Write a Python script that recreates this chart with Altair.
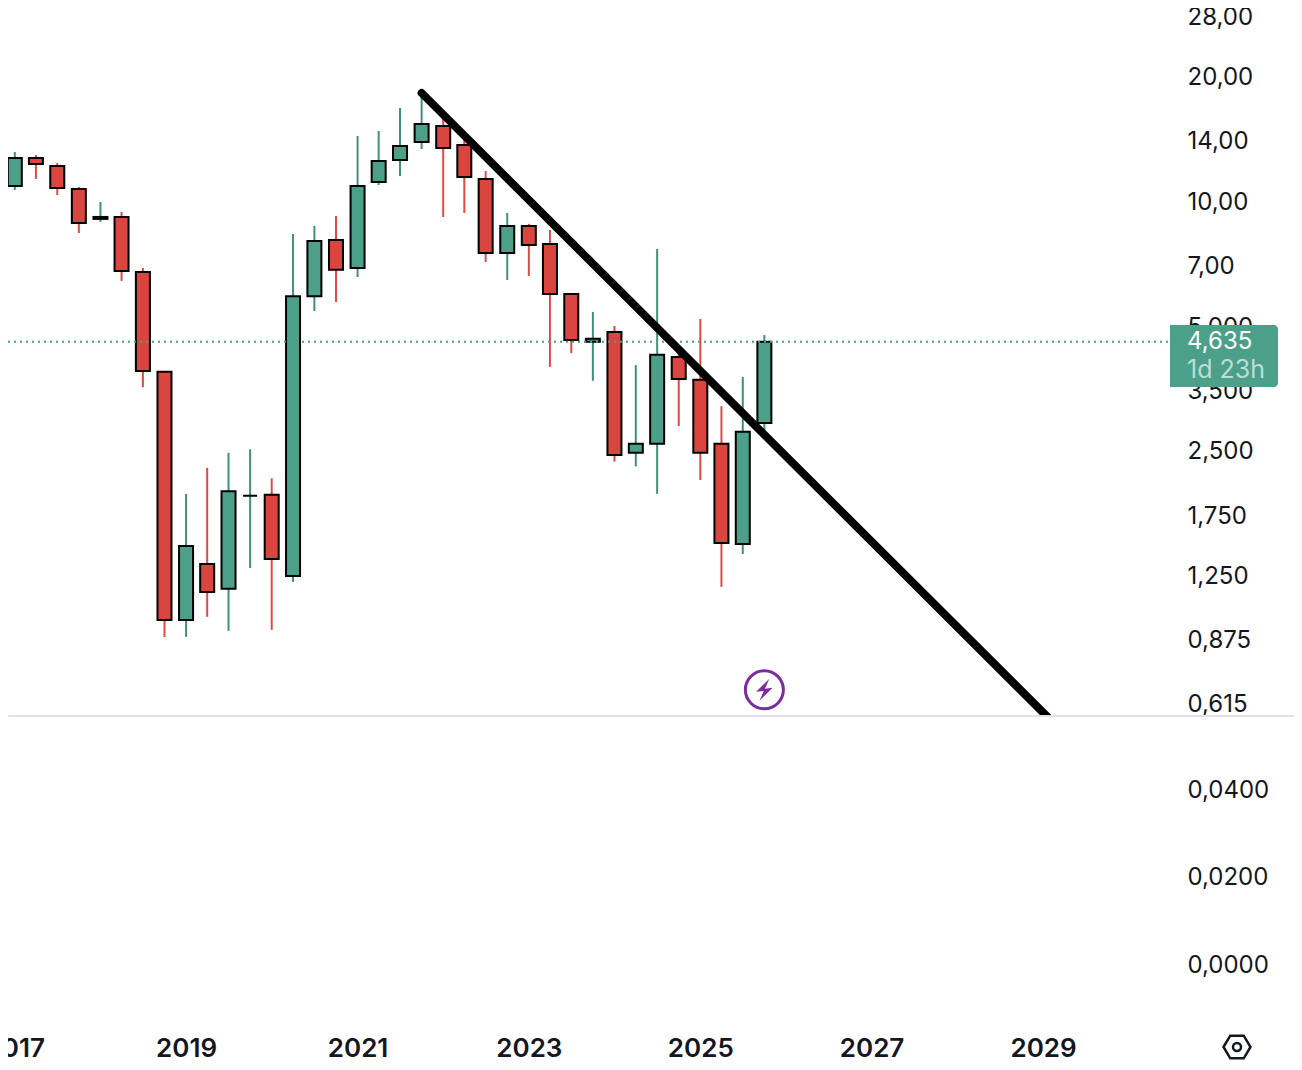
import altair as alt
import pandas as pd

dates = [d.strftime("%Y-%m-%d") for d in pd.date_range("2017-01-01", periods=36, freq="QS")]
opens = [11.01, 12.86, 12.31, 10.83, 9.17, 9.27, 6.83, 3.92, 0.988, 1.348, 1.174, 1.97,
         1.98, 1.261, 5.97, 8.16, 6.98, 11.26, 12.72, 14.06, 15.37, 13.83, 11.45, 7.59,
         8.82, 7.98, 6.04, 4.635, 4.89, 2.50, 2.63, 4.26, 3.75, 2.63, 1.507, 2.95]
closes = [12.86, 12.44, 10.89, 8.97, 9.27, 6.87, 3.94, 0.988, 1.49, 1.154, 2.02, 1.97,
          1.386, 5.97, 8.11, 6.91, 11.01, 12.65, 13.75, 15.54, 13.60, 11.58, 7.59, 8.82,
          7.93, 6.04, 4.68, 4.71, 2.47, 2.63, 4.31, 3.77, 2.50, 1.515, 2.81, 4.635]
highs = [13.30, 13.08, 12.51, 10.95, 10.07, 9.53, 6.98, 3.94, 1.99, 2.30, 2.50, 2.55,
         2.17, 8.43, 8.82, 9.32, 14.54, 14.95, 16.98, 18.25, 16.42, 14.22, 11.97, 9.48,
         8.92, 8.62, 6.08, 5.47, 5.06, 4.07, 7.76, 4.43, 5.26, 3.24, 3.81, 4.81]
lows = [10.77, 11.45, 10.47, 8.48, 9.02, 6.50, 3.60, 0.899, 0.899, 1.005, 0.930, 1.318,
        0.935, 1.220, 5.50, 5.78, 6.64, 11.07, 11.64, 13.52, 9.27, 9.48, 7.22, 6.53,
        6.68, 4.03, 4.35, 3.73, 2.38, 2.32, 1.99, 2.90, 2.15, 1.187, 1.425, 2.72]
trend_dates = ["2021-10-01", "2029-04-12"]
trend_prices = [18.46, 0.518]
last_price = 4.635
price_ticks = [28, 20, 14, 10, 7, 5, 3.5, 2.5, 1.75, 1.25, 0.875, 0.615]
lower_ticks = [0.04, 0.02, 0.0]
year_ticks = [2017, 2019, 2021, 2023, 2025, 2027, 2029]

GREEN, GREEN_W = "#4CA08A", "#3F917B"
RED, RED_W = "#DB4540", "#E04A45"
INK = "#131722"
FONT = "Inter"

df = pd.DataFrame({"date": dates, "open": opens, "close": closes, "high": highs, "low": lows})
df["dir"] = ["up" if c >= o else "down" for o, c in zip(opens, closes)]
df["dirw"] = df["dir"]
trend = pd.DataFrame({"date": trend_dates, "price": trend_prices})
one = pd.DataFrame({"date": [dates[-1]], "price": [0.670], "last": [last_price], "floor": [0.579], "bottom": [0.107]})

x_scale = alt.Scale(type="utc", padding=0,
                    domain=[alt.DateTime(year=2016, month=12, date=3, utc=True),
                            alt.DateTime(year=2030, month=6, date=26, utc=True)])
y_scale = alt.Scale(type="log", domain=[0.107, 29.6], nice=False)
X = alt.X("date:T", scale=x_scale, title=None,
          axis=alt.Axis(values=[alt.DateTime(year=y, month=1, date=1, utc=True) for y in year_ticks],
                        labelExpr="utcyear(datum.value)", domain=False, ticks=False, grid=False,
                        labelFont=FONT, labelFontSize=26, labelFontWeight=600, labelColor=INK,
                        labelPadding=15, labelOverlap=False, labelFlush=False, labelBound=False))

price_axis = alt.Axis(orient="right", values=price_ticks, domain=False, ticks=False, grid=False,
                      labelExpr="replace(format(datum.value, datum.value >= 7 ? '.2f' : '.3f'), '.', ',')",
                      labelFont=FONT, labelFontSize=24, labelColor=INK, labelPadding=17, labelAlign="left",
                      labelOverlap=False, labelFlush=False, labelBound=False, labelOffset=-1)


def Y(field):
    return alt.Y(field, type="quantitative", scale=y_scale, title=None, axis=price_axis)


color = alt.Color("dir:N", legend=None, scale=alt.Scale(domain=["up", "down"], range=[GREEN, RED]))
color_w = alt.Color("dirw:N", legend=None, scale=alt.Scale(domain=["up", "down"], range=[GREEN_W, RED_W]))

wicks = alt.Chart(df).mark_rule(strokeWidth=2).encode(x=X, y=Y("low"), y2="high:Q", color=color_w)
bodies = alt.Chart(df).mark_bar(size=14, stroke="black", strokeWidth=2).encode(x=X, y=Y("open"), y2="close:Q", color=color)
dots = alt.Chart(one).mark_rule(strokeWidth=2, strokeDash=[2, 4], color=GREEN).encode(
    x=alt.value(0), x2=alt.value(1162), y=Y("last"))
line = alt.Chart(trend).mark_line(color="black", strokeWidth=8, strokeCap="round", clip=True).encode(x=X, y=Y("price"))
mask = alt.Chart(one).mark_rect(color="white").encode(x=alt.value(0), x2=alt.value(1162), y=Y("floor"), y2="bottom:Q")
sep = alt.Chart(one).mark_rule(color="#E0E3EB", strokeWidth=2).encode(x=alt.value(-8), x2=alt.value(1286), y=Y("floor"))
ring = alt.Chart(one).mark_point(shape="circle", size=1444, filled=False, color="#7B2D9F", strokeWidth=3, opacity=1).encode(x=X, y=Y("price"))
bolt = alt.Chart(one).mark_point(shape="M0.45,-1L-0.75,0.18L-0.05,0.1L-0.45,1L0.75,-0.18L0.05,-0.1Z", size=484,
                                 filled=True, color="#7B2D9F", opacity=1).encode(x=X, y=Y("price"))
badge = alt.Chart(one).mark_rect(color=GREEN, cornerRadiusTopRight=4, cornerRadiusBottomRight=4).encode(
    x=alt.value(1162), x2=alt.value(1270), y=alt.value(317), y2=alt.value(379))
badge_price = alt.Chart(pd.DataFrame({"t": ["4,635"]})).mark_text(align="left", baseline="middle", font=FONT, fontSize=24, color="white").encode(
    x=alt.value(1179), y=alt.value(334), text="t:N")
badge_time = alt.Chart(pd.DataFrame({"t": ["1d 23h"]})).mark_text(align="left", baseline="middle", font=FONT, fontSize=25, color="#BBDED4").encode(
    x=alt.value(1179), y=alt.value(362), text="t:N")
hexagon = alt.Chart(one).mark_point(shape="M-1,0L-0.5,-0.84L0.5,-0.84L1,0L0.5,0.84L-0.5,0.84Z", size=729, filled=False,
                                    color=INK, strokeWidth=2.5, opacity=1).encode(x=alt.value(1229), y=alt.value(1039))
hole = alt.Chart(one).mark_point(shape="circle", size=64, filled=False, color=INK, strokeWidth=2.5, opacity=1).encode(
    x=alt.value(1229), y=alt.value(1039))

top = alt.layer(wicks, bodies, dots, line, mask, sep, ring, bolt, badge, badge_price, badge_time, hexagon, hole).resolve_scale(color="independent")

lower_axis = alt.Axis(orient="right", values=lower_ticks, domain=False, ticks=False, grid=False,
                      labelExpr="replace(format(datum.value, '.4f'), '.', ',')",
                      labelFont=FONT, labelFontSize=24, labelColor=INK, labelPadding=17, labelAlign="left",
                      labelOverlap=False, labelFlush=False, labelBound=False, labelOffset=1.5)
lower = alt.Chart(pd.DataFrame({"v": lower_ticks})).mark_point(opacity=0).encode(
    y=alt.Y("v:Q", title=None, axis=lower_axis, scale=alt.Scale(domain=[-0.0128, 0.2185], nice=False, zero=False)))

chart = alt.layer(top, lower).resolve_scale(y="independent").properties(
    width=1162, height=1012,
    padding={"left": 0, "top": 0, "right": 124, "bottom": 42},
    autosize=alt.AutoSizeParams(type="none"),
    background="white",
).configure_view(stroke=None)

chart.save("out.html", embed_options={"renderer": "svg", "actions": False})
